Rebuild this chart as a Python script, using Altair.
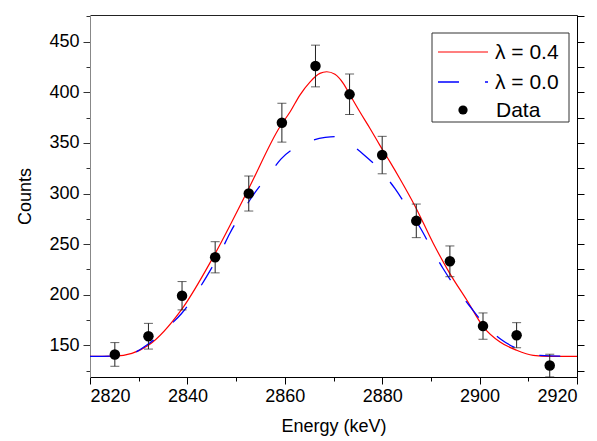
import altair as alt
import pandas as pd

# ---- measured data ----
energy = [2825.1, 2832.0, 2838.9, 2845.7, 2852.6, 2859.4, 2866.3,
          2873.3, 2880.0, 2887.0, 2893.9, 2900.7, 2907.6, 2914.4]
counts = [141, 159, 199, 237, 300, 370, 426, 398, 338, 273, 233, 169, 160, 130]
errors = [11.7, 12.7, 14.0, 15.4, 17.3, 19.2, 20.6, 20.0, 18.5, 16.6, 15.2, 13.0, 12.4, 11.2]

# lambda = 0.4 fit curve
red_x = [2820, 2825, 2828.6, 2832, 2838.9, 2845.7, 2852.6, 2859.0, 2861.1, 2863.1,
         2865.2, 2867.2, 2868.6, 2870.3, 2872.0, 2873.4, 2875.4, 2877.5, 2879.5,
         2881.6, 2883.6, 2886.7, 2890.5, 2893.9, 2897.4, 2900.8, 2904.2, 2907.6,
         2911.0, 2914.5, 2920]
red_y = [139, 139.3, 142, 150, 186, 240.7, 305, 366, 380.8, 397.3,
         410.4, 418.7, 420.3, 417.8, 408.9, 397.3, 380.8, 364.3, 347.8,
         331.3, 314.9, 288, 250.6, 220.9, 194.5, 168.1, 153.3, 145.1,
         140.1, 139.1, 139]

# lambda = 0.0 fit curve
blue_x = [2820, 2825, 2828.6, 2831.6, 2836.0, 2838.8, 2842.2, 2844.3, 2847.0, 2848.7,
          2851.5, 2853.5, 2857.0, 2859.2, 2864.5, 2868.3, 2870.3, 2873.2, 2876.1,
          2880.2, 2882.6, 2885.7, 2887.9, 2890.5, 2892.5, 2895.6, 2898.0, 2901.8,
          2904.5, 2910.0, 2912.4, 2920]
blue_y = [139, 139.5, 141.8, 150, 168.1, 181.4, 204.4, 220.9, 244, 260.5,
          283.5, 298.4, 320.4, 334, 350.5, 355.4, 356.3, 349.5, 338.9,
          319.8, 305, 281.9, 265.4, 242.3, 225.9, 203.7, 188.6, 166.5,
          155.6, 142.8, 140.1, 139]

legend_labels = ["λ = 0.4", "λ = 0.0", "Data"]
x_title = "Energy (keV)"
y_title = "Counts"

FONT = "Liberation Sans"

df_pts = pd.DataFrame({"E": energy, "C": counts,
                       "lo": [c - e for c, e in zip(counts, errors)],
                       "hi": [c + e for c, e in zip(counts, errors)]})
df_red = pd.DataFrame({"E": red_x, "C": red_y})
df_blue = pd.DataFrame({"E": blue_x, "C": blue_y})

xs = alt.Scale(domain=[2820, 2920], nice=False, zero=False)
ys = alt.Scale(domain=[118.7, 476.4], nice=False, zero=False)

x_axis_bottom = alt.Axis(
    values=list(range(2820, 2921, 10)), format="d",
    labelExpr="datum.value % 20 === 0 ? datum.label : ''",
    tickSize={"condition": {"test": "datum.value % 20 === 0", "value": 7}, "value": 4},
    labelPadding=3, title=x_title, titlePadding=12,
    domainColor="black", tickColor="black", grid=False,
)
y_axis_left = alt.Axis(
    values=list(range(125, 476, 25)), format="d",
    labelExpr="datum.value % 50 === 0 ? datum.label : ''",
    tickSize={"condition": {"test": "datum.value % 50 === 0", "value": 7}, "value": 4},
    labelPadding=4, title=y_title, titlePadding=14,
    domainColor="#888888", tickColor="#333333", grid=False,
)

red = alt.Chart(df_red).mark_line(color="#ff0000", strokeWidth=1.2, interpolate="monotone").encode(
    x=alt.X("E:Q", scale=xs, axis=x_axis_bottom),
    y=alt.Y("C:Q", scale=ys, axis=y_axis_left),
)
blue = alt.Chart(df_blue).mark_line(color="#0000ff", strokeWidth=1.3, strokeDash=[21, 26],
                                    interpolate="monotone").encode(
    x=alt.X("E:Q", scale=xs, axis=alt.Axis(orient="top", labels=False, ticks=False, title=None,
                                            domainColor="#222222", grid=False)),
    y=alt.Y("C:Q", scale=ys, axis=None),
)
bars = alt.Chart(df_pts).mark_rule(color="#222222", strokeWidth=1).encode(
    x=alt.X("E:Q", scale=xs, axis=None),
    y=alt.Y("lo:Q", scale=ys, axis=None),
    y2="hi:Q",
)
cap_lo = alt.Chart(df_pts).mark_tick(color="#222222", orient="horizontal", size=9, thickness=1).encode(
    x=alt.X("E:Q", scale=xs, axis=None),
    y=alt.Y("lo:Q", scale=ys, axis=None),
)
cap_hi = alt.Chart(df_pts).mark_tick(color="#222222", orient="horizontal", size=9, thickness=1).encode(
    x=alt.X("E:Q", scale=xs, axis=None),
    y=alt.Y("hi:Q", scale=ys, axis=None),
)
pts = alt.Chart(df_pts).mark_circle(color="black", size=110, opacity=1).encode(
    x=alt.X("E:Q", scale=xs, axis=None),
    y=alt.Y("C:Q", scale=ys, axis=alt.Axis(orient="right", labels=False, title=None,
                                            values=list(range(125, 476, 25)), tickSize=7,
                                            domainColor="black", tickColor="black", grid=False)),
)

# ---- legend (pixel positions inside the plot area) ----
one = pd.DataFrame({"k": [0]})
leg_box = alt.Chart(one).mark_rect(fill="white", fillOpacity=0, stroke="#333333", strokeWidth=1).encode(
    x=alt.value(342), x2=alt.value(479), y=alt.value(18), y2=alt.value(107))
leg_red = alt.Chart(one).mark_rule(color="#ff0000", strokeWidth=1.2).encode(
    x=alt.value(348), x2=alt.value(398), y=alt.value(37))
leg_blue = alt.Chart(one).mark_rule(color="#0000ff", strokeWidth=1.3, strokeDash=[21, 26]).encode(
    x=alt.value(348), x2=alt.value(398), y=alt.value(67))
leg_dot = alt.Chart(one).mark_circle(color="black", size=85, opacity=1).encode(
    x=alt.value(373), y=alt.value(95))
leg_texts = []
for lab, yy in zip(legend_labels, [38, 68, 96]):
    leg_texts.append(
        alt.Chart(pd.DataFrame({"t": [lab]})).mark_text(
            align="left", baseline="middle", fontSize=21, font=FONT, color="black"
        ).encode(x=alt.value(405 if lab != "Data" else 406), y=alt.value(yy), text="t:N")
    )

chart = alt.layer(
    red, blue, bars, cap_lo, cap_hi, pts, leg_box, leg_red, leg_blue, leg_dot, *leg_texts
).resolve_axis(x="independent", y="independent").properties(
    width=487, height=362,
    autosize=alt.AutoSizeParams(type="none"),
    padding={"left": 90, "top": 15, "right": 20, "bottom": 64},
).configure_view(stroke=None).configure_axis(
    labelFont=FONT, titleFont=FONT, labelFontSize=18, titleFontSize=18,
    labelColor="black", titleColor="black", titleFontWeight="normal",
)

chart.save("out.html", embed_options={"renderer": "svg", "actions": False})
